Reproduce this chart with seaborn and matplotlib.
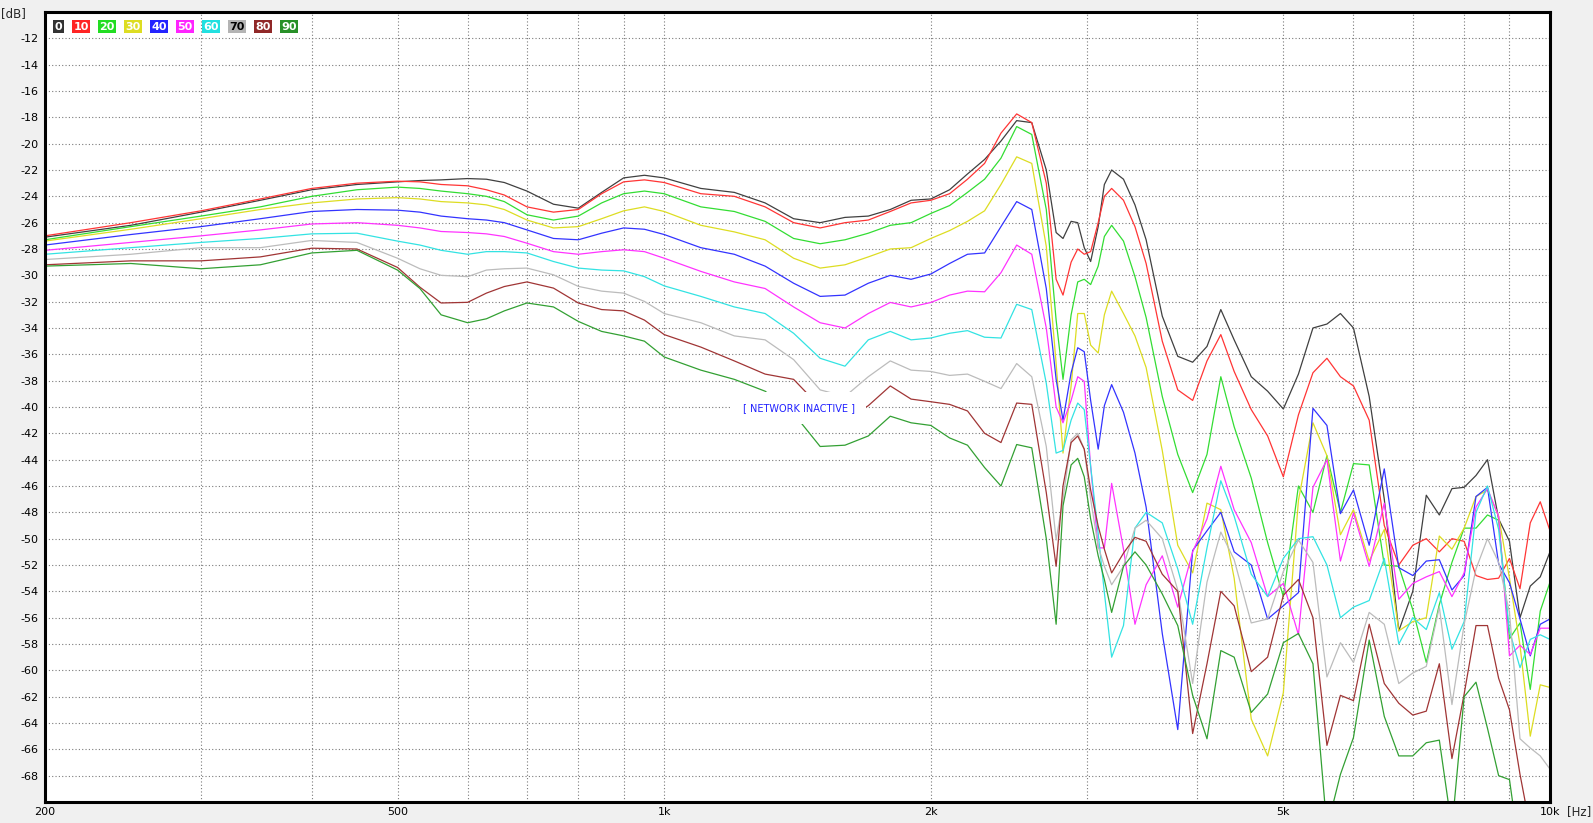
import matplotlib
matplotlib.use("Agg")
import matplotlib.pyplot as plt
import pandas as pd
import seaborn as sns

# measurement frequencies (Hz)
freq_hz = [200, 250, 300, 350, 400, 450, 500,
           530, 560, 600, 630, 660, 700, 750, 800, 850, 900, 950, 1000,
           1100, 1200, 1300, 1400, 1500, 1600, 1700, 1800, 1900, 2000,
           2100, 2200, 2300, 2400, 2500, 2600, 2700,
           2770, 2820, 2880, 2930, 2980, 3030, 3090, 3140, 3200,
           3300, 3400, 3500, 3650, 3800, 3950, 4100, 4250, 4400, 4600, 4800, 5000,
           5200, 5400, 5600, 5800, 6000, 6250, 6500, 6750, 7000,
           7250, 7500, 7750, 8000, 8250, 8500, 8750, 9000, 9250, 9500, 9750, 10000]

# off-axis response in dB, one list per angle
spl_0 = [-27.1, -26.2, -25.2, -24.3, -23.5, -23.1, -22.9,
         -22.8, -22.75, -22.65, -22.7, -22.95, -23.6, -24.6, -24.9, -23.7, -22.6, -22.4, -22.6,
         -23.4, -23.7, -24.5, -25.7, -26.0, -25.6, -25.5, -25.0, -24.3, -24.2,
         -23.5, -22.3, -21.2, -19.8, -18.25, -18.4, -22.0,
         -26.75, -27.2, -25.9, -26.0, -27.9, -28.95, -26.3, -23.1, -22.0,
         -22.7, -24.65, -27.3, -33.1, -36.15, -36.6, -35.4, -32.6, -34.9, -37.7, -38.8, -40.15,
         -37.5, -34.0, -33.7, -32.9, -34.0, -39.2, -47.0, -57.0, -54.0,
         -46.7, -48.2, -46.2, -46.1, -45.2, -44.0, -48.5, -50.2, -56.0, -53.6, -52.9, -51.0]
spl_10 = [-27.0, -26.0, -25.1, -24.2, -23.4, -23.0, -22.85,
          -22.9, -23.1, -23.2, -23.5, -23.9, -24.8, -25.2, -25.0, -23.8, -22.9, -22.75, -22.95,
          -23.8, -24.0, -24.8, -26.0, -26.4, -26.0, -25.8, -25.15, -24.5, -24.3,
          -23.8, -22.7, -21.5, -19.2, -17.74, -18.4, -23.0,
          -30.3, -31.5, -29.0, -28.0, -28.4, -28.2, -26.0, -24.0, -23.4,
          -24.3, -26.3, -29.1, -35.0, -38.7, -39.5, -36.5, -34.5, -37.3, -40.2, -42.2, -45.3,
          -40.6, -37.4, -36.3, -37.7, -38.4, -41.0, -49.0, -52.0, -50.5,
          -50.0, -51.0, -50.0, -50.2, -52.8, -53.1, -53.0, -51.5, -53.8, -48.8, -47.2, -49.4]
spl_20 = [-27.3, -26.3, -25.5, -24.8, -24.0, -23.5, -23.3,
          -23.4, -23.6, -23.8, -24.0, -24.4, -25.4, -25.8, -25.5, -24.5, -23.8, -23.6, -23.8,
          -24.8, -25.15, -25.9, -27.2, -27.6, -27.3, -26.8, -26.2, -26.0, -25.3,
          -24.7, -23.7, -22.7, -21.1, -18.7, -19.3, -25.0,
          -33.4, -37.9, -33.0, -30.5, -30.3, -30.7, -29.3, -27.05, -26.2,
          -27.4, -30.1, -33.2, -39.2, -43.6, -46.5, -43.6, -37.7, -41.5, -45.4, -50.3, -54.4,
          -46.0, -48.0, -43.7, -48.0, -44.3, -44.4, -52.0, -52.1, -55.4,
          -59.4, -55.0, -51.8, -49.2, -49.2, -48.2, -48.6, -57.6, -56.4, -61.45, -55.5, -53.3]
spl_30 = [-27.4, -26.5, -25.7, -25.0, -24.5, -24.2, -24.1,
          -24.2, -24.4, -24.5, -24.65, -25.0, -25.8, -26.4, -26.3, -25.7, -25.1, -24.8, -25.15,
          -26.2, -26.7, -27.3, -28.7, -29.45, -29.2, -28.6, -28.0, -27.9, -27.2,
          -26.6, -25.9, -25.1, -23.1, -21.0, -21.5, -27.8,
          -36.7, -43.5, -38.4, -32.9, -32.9, -35.3, -35.9, -33.0, -31.2,
          -32.9, -34.6, -37.0, -43.3, -50.5, -52.6, -47.3, -47.8, -53.0, -63.7, -66.5, -61.7,
          -47.1, -41.2, -43.7, -49.7, -47.8, -51.7, -49.3, -57.0, -56.3,
          -56.0, -49.8, -50.8, -49.2, -46.8, -46.3, -48.3, -53.0, -58.1, -65.0, -61.1, -61.3]
spl_40 = [-27.7, -26.9, -26.3, -25.7, -25.15, -25.0, -25.05,
          -25.2, -25.5, -25.7, -25.8, -26.0, -26.55, -27.2, -27.3, -26.8, -26.4, -26.5, -26.9,
          -27.9, -28.4, -29.3, -30.6, -31.6, -31.5, -30.6, -30.0, -30.3, -29.9,
          -29.1, -28.4, -28.3, -26.3, -24.4, -25.0, -31.0,
          -37.9, -41.0, -37.4, -35.5, -35.8, -39.5, -43.2, -39.9, -38.3,
          -40.4, -43.5, -47.6, -57.2, -64.5, -50.9, -49.4, -48.0, -51.0, -52.0, -56.1, -55.1,
          -54.1, -40.1, -41.4, -48.1, -46.3, -50.5, -44.7, -52.2, -52.8,
          -51.7, -51.6, -53.9, -52.8, -46.8, -46.1, -51.9, -53.35, -56.1, -58.9, -56.5, -56.1]
spl_50 = [-28.1, -27.5, -27.0, -26.55, -26.1, -26.0, -26.2,
          -26.4, -26.67, -26.75, -26.85, -27.05, -27.56, -28.2, -28.4, -28.2, -28.06, -28.2, -28.7,
          -29.7, -30.5, -31.0, -32.4, -33.6, -34.0, -32.9, -32.06, -32.4, -32.06,
          -31.5, -31.2, -31.25, -29.8, -27.7, -28.4, -34.0,
          -40.0, -41.2, -39.5, -37.7, -38.05, -44.5, -50.7, -50.7, -45.8,
          -50.8, -56.5, -53.5, -51.3, -55.2, -51.0, -48.5, -44.5, -47.8, -50.3, -54.4, -53.4,
          -57.3, -46.1, -44.0, -51.7, -48.05, -52.1, -47.3, -54.6, -53.4,
          -52.9, -52.5, -54.4, -52.6, -47.6, -46.2, -48.3, -58.9, -58.1, -58.8, -56.8, -56.8]
spl_60 = [-28.4, -27.9, -27.5, -27.2, -26.85, -26.8, -27.4,
          -27.7, -28.1, -28.4, -28.2, -28.2, -28.3, -28.95, -29.45, -29.6, -29.66, -30.1, -30.8,
          -31.6, -32.4, -32.9, -34.4, -36.3, -36.9, -34.9, -34.26, -34.9, -34.76,
          -34.4, -34.2, -34.7, -34.76, -32.2, -32.6, -38.2,
          -43.5, -43.3, -41.0, -39.7, -40.2, -44.5, -49.6, -54.1, -59.0,
          -56.6, -49.2, -48.0, -48.8, -52.3, -56.5, -50.7, -45.6, -48.3, -52.7, -54.4, -51.5,
          -50.0, -49.85, -52.0, -56.0, -55.2, -54.7, -51.5, -58.0, -56.0,
          -56.9, -54.1, -58.4, -56.3, -48.0, -46.0, -49.3, -57.0, -59.8, -57.65, -57.3, -57.65]
spl_70 = [-28.8, -28.4, -27.9, -27.9, -27.35, -27.5, -28.7,
          -29.5, -30.0, -30.1, -29.6, -29.5, -29.45, -29.96, -30.84, -31.2, -31.35, -31.98, -32.9,
          -33.6, -34.6, -34.9, -36.4, -38.7, -39.2, -37.7, -36.5, -37.2, -37.3,
          -37.6, -37.5, -38.05, -38.6, -36.7, -37.7, -43.0,
          -50.1, -47.0, -42.5, -42.0, -43.2, -47.0, -50.6, -52.1, -53.5,
          -52.1, -49.2, -48.6, -50.0, -53.9, -61.0, -53.3, -49.5, -51.6, -56.4, -56.1, -52.5,
          -50.1, -51.8, -60.5, -57.9, -59.4, -55.6, -56.5, -61.0, -60.2,
          -59.7, -55.2, -62.6, -56.5, -52.3, -50.0, -51.8, -55.6, -65.2, -65.9, -66.5, -67.5]
spl_80 = [-29.2, -28.9, -28.9, -28.6, -27.94, -28.0, -29.4,
          -30.9, -32.1, -32.05, -31.35, -30.85, -30.5, -30.97, -32.1, -32.6, -32.7, -33.4, -34.5,
          -35.45, -36.5, -37.5, -37.9, -40.0, -41.0, -39.9, -38.4, -39.4, -39.6,
          -39.8, -40.3, -42.0, -42.7, -39.7, -39.8, -46.5,
          -52.1, -46.0, -42.7, -42.2, -43.2, -46.3, -49.05, -50.8, -52.6,
          -51.1, -49.9, -50.2, -52.7, -54.0, -64.8, -59.5, -54.0, -55.1, -60.1, -59.0, -54.3,
          -53.1, -56.0, -65.7, -61.9, -62.3, -56.5, -61.0, -62.5, -63.4,
          -63.1, -59.5, -66.7, -61.8, -56.6, -56.6, -60.6, -63.0, -67.9, -72.0, -74.0, -75.0]
spl_90 = [-29.3, -29.1, -29.5, -29.2, -28.3, -28.1, -29.6,
          -31.0, -33.0, -33.6, -33.3, -32.7, -32.1, -32.4, -33.5, -34.26, -34.6, -35.0, -36.2,
          -37.2, -37.9, -38.8, -40.5, -43.0, -42.9, -42.2, -40.7, -41.2, -41.4,
          -42.35, -42.9, -44.6, -46.0, -42.85, -43.1, -50.0,
          -56.5, -47.5, -44.4, -43.9, -45.3, -48.5, -51.3, -53.1, -55.6,
          -52.1, -51.0, -52.0, -54.2, -56.6, -61.9, -65.2, -58.5, -59.0, -63.2, -61.8, -57.9,
          -57.2, -59.5, -72.0, -67.9, -65.1, -57.7, -63.5, -66.5, -66.5,
          -65.5, -65.3, -72.0, -62.0, -60.9, -64.4, -68.0, -68.3, -74.0, -76.0, -76.0, -76.0]

angles = ["0", "10", "20", "30", "40", "50", "60", "70", "80", "90"]
line_colors = ["#404040", "#ff3535", "#33dd33", "#dddd22", "#3333ff",
               "#ff33ff", "#33e3e3", "#bcbcbc", "#a03535", "#33a033"]
box_colors = ["#333333", "#ff2424", "#22dd22", "#dddd22", "#2424ff",
              "#ff24ff", "#22e0e0", "#b4b4b4", "#902828", "#289028"]

curves = dict(zip(angles, [spl_0, spl_10, spl_20, spl_30, spl_40,
                           spl_50, spl_60, spl_70, spl_80, spl_90]))
df = pd.concat([pd.DataFrame({"freq": freq_hz, "db": v, "angle": k})
                for k, v in curves.items()], ignore_index=True)

sns.set_style("white")
plt.rcParams["font.family"] = ["DejaVu Sans"]
plt.rcParams["axes.unicode_minus"] = False

W, H = 1593, 823
fig = plt.figure(figsize=(W / 100, H / 100), dpi=100, facecolor="#f0f0f0")
ax = fig.add_axes([45 / W, 1 - 802 / H, 1505 / W, 790 / H])
ax.set_facecolor("white")

sns.lineplot(data=df, x="freq", y="db", hue="angle", hue_order=angles,
             palette=line_colors, estimator=None, sort=False, linewidth=0.9,
             legend=False, ax=ax)

ax.set_xscale("log")
ax.set_xlim(200, 10000)
ax.set_ylim(-70, -10)
ax.set_xlabel("")
ax.set_ylabel("")

ax.set_xticks([200, 500, 1000, 2000, 5000, 10000], ["200", "500", "1k", "2k", "5k", "10k"])
ax.set_xticks([300, 400, 600, 700, 800, 900, 3000, 4000, 6000, 7000, 8000, 9000], minor=True)
ax.xaxis.set_minor_formatter(plt.NullFormatter())
ax.set_yticks(list(range(-68, -11, 2)))
ax.grid(True, which="both", color="#7a7a7a", linestyle=(0, (1, 2)), linewidth=0.8)
ax.tick_params(axis="both", which="both", direction="out", length=2, width=0.8,
               color="#808080", labelsize=8, labelcolor="black")
ax.tick_params(axis="x", which="both", pad=1.5)
ax.tick_params(axis="y", which="both", pad=2.8)
for s in ax.spines.values():
    s.set_visible(True)
    s.set_color("black")
    s.set_linewidth(2.2)

fig.text(13.5 / W, 1 - 14 / H, "[dB]", fontsize=8.5, ha="center", va="center")
fig.text(1579 / W, 1 - 812 / H, "[Hz]", fontsize=8.5, ha="center", va="center")

ax.text(1420, -40.1, "[ NETWORK INACTIVE ]", color="#2020ff", fontsize=7,
        ha="center", va="center", zorder=10,
        bbox=dict(boxstyle="square,pad=1.15", facecolor="white", edgecolor="none"))

# colour key in the top-left corner
key_x = [58.3, 81, 107, 133, 159, 185, 211, 237, 263, 289]
for lab, col, kx in zip(angles, box_colors, key_x):
    fig.text(kx / W, 1 - 26.5 / H, lab, color="black" if lab == "70" else "white",
             fontsize=8, fontweight="bold", ha="center", va="center", zorder=10,
             bbox=dict(boxstyle="square,pad=0.15", facecolor=col, edgecolor="none"))

fig.savefig("out.png", dpi=100, facecolor=fig.get_facecolor())
